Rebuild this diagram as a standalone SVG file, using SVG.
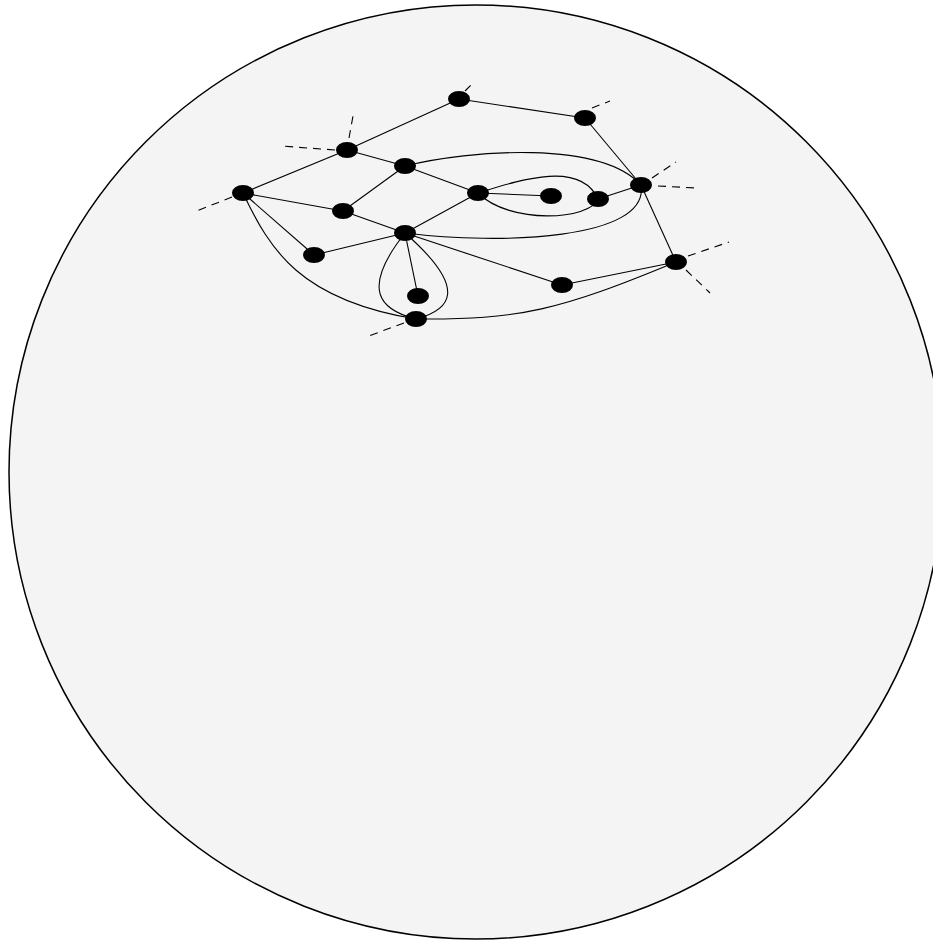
<svg xmlns="http://www.w3.org/2000/svg" width="933" height="943" viewBox="0 0 933 943">
<style>
.bg{fill:#f4f4f4;stroke:#000;stroke-width:1.5}
.e{fill:none;stroke:#000;stroke-width:1.1}
.d{fill:none;stroke:#000;stroke-width:1.1;stroke-dasharray:8,6}
.n{fill:#000}
</style>
<rect width="933" height="943" fill="#fff"/>
<circle class="bg" cx="476" cy="472" r="467"/>
<g id="connectors">
<line class="e" x1="459" y1="99" x2="585" y2="118"/>
<line class="e" x1="459" y1="99" x2="347" y2="150"/>
<line class="e" x1="585" y1="118" x2="641" y2="185"/>
<line class="e" x1="347" y1="150" x2="405" y2="166"/>
<line class="e" x1="347" y1="150" x2="243" y2="193"/>
<line class="e" x1="405" y1="166" x2="343" y2="211"/>
<line class="e" x1="405" y1="166" x2="478" y2="193"/>
<path class="e" d="M405,166 C470,150 600,140 641,185"/>
<line class="e" x1="243" y1="193" x2="343" y2="211"/>
<line class="e" x1="343" y1="211" x2="405" y2="233"/>
<line class="e" x1="243" y1="193" x2="314" y2="255"/>
<line class="e" x1="314" y1="255" x2="405" y2="233"/>
<path class="e" d="M243,193 C270,250 300,300 416,319"/>
<line class="e" x1="405" y1="233" x2="478" y2="193"/>
<line class="e" x1="478" y1="193" x2="551" y2="196"/>
<path class="e" d="M478,193 C520,180 580,160 598,199"/>
<path class="e" d="M478,193 C510,225 590,220 598,199"/>
<line class="e" x1="598" y1="199" x2="641" y2="185"/>
<path class="e" d="M405,233 C500,245 650,240 641,185"/>
<line class="e" x1="641" y1="185" x2="676" y2="262"/>
<line class="e" x1="405" y1="233" x2="562" y2="285"/>
<line class="e" x1="562" y1="285" x2="676" y2="262"/>
<path class="e" d="M416,319 C520,320 560,310 676,262"/>
<line class="e" x1="405" y1="233" x2="418" y2="296"/>
<path class="e" d="M405,233 C360,290 380,310 416,319"/>
<path class="e" d="M405,233 C470,290 450,310 416,319"/>
<line class="d" x1="465" y1="91" x2="474" y2="82"/>
<line class="d" x1="592" y1="108" x2="610" y2="101"/>
<line class="d" x1="349" y1="138" x2="353" y2="116"/>
<line class="d" x1="335" y1="150" x2="281" y2="146"/>
<line class="d" x1="232" y1="197" x2="194" y2="212"/>
<line class="d" x1="652" y1="178" x2="676" y2="162"/>
<line class="d" x1="658" y1="186" x2="697" y2="188"/>
<line class="d" x1="688" y1="256" x2="729" y2="242"/>
<line class="d" x1="686" y1="270" x2="710" y2="293"/>
<line class="d" x1="404" y1="323" x2="366" y2="337"/>
</g>
<g id="nA"><ellipse class="n" cx="459" cy="99" rx="11" ry="8"/></g>
<g id="nB"><ellipse class="n" cx="585" cy="118" rx="11" ry="8"/></g>
<g id="nC"><ellipse class="n" cx="347" cy="150" rx="11" ry="8"/></g>
<g id="nD"><ellipse class="n" cx="405" cy="166" rx="11" ry="8"/></g>
<g id="nE"><ellipse class="n" cx="243" cy="193" rx="11" ry="8"/></g>
<g id="nF"><ellipse class="n" cx="478" cy="193" rx="11" ry="8"/></g>
<g id="nG"><ellipse class="n" cx="551" cy="196" rx="11" ry="8"/></g>
<g id="nH"><ellipse class="n" cx="598" cy="199" rx="11" ry="8"/></g>
<g id="nI"><ellipse class="n" cx="641" cy="185" rx="11" ry="8"/></g>
<g id="nJ"><ellipse class="n" cx="343" cy="211" rx="11" ry="8"/></g>
<g id="nK"><ellipse class="n" cx="405" cy="233" rx="11" ry="8"/></g>
<g id="nL"><ellipse class="n" cx="314" cy="255" rx="11" ry="8"/></g>
<g id="nM"><ellipse class="n" cx="418" cy="296" rx="11" ry="8"/></g>
<g id="nN"><ellipse class="n" cx="562" cy="285" rx="11" ry="8"/></g>
<g id="nO"><ellipse class="n" cx="676" cy="262" rx="11" ry="8"/></g>
<g id="nP"><ellipse class="n" cx="416" cy="319" rx="11" ry="8"/></g>
</svg>
